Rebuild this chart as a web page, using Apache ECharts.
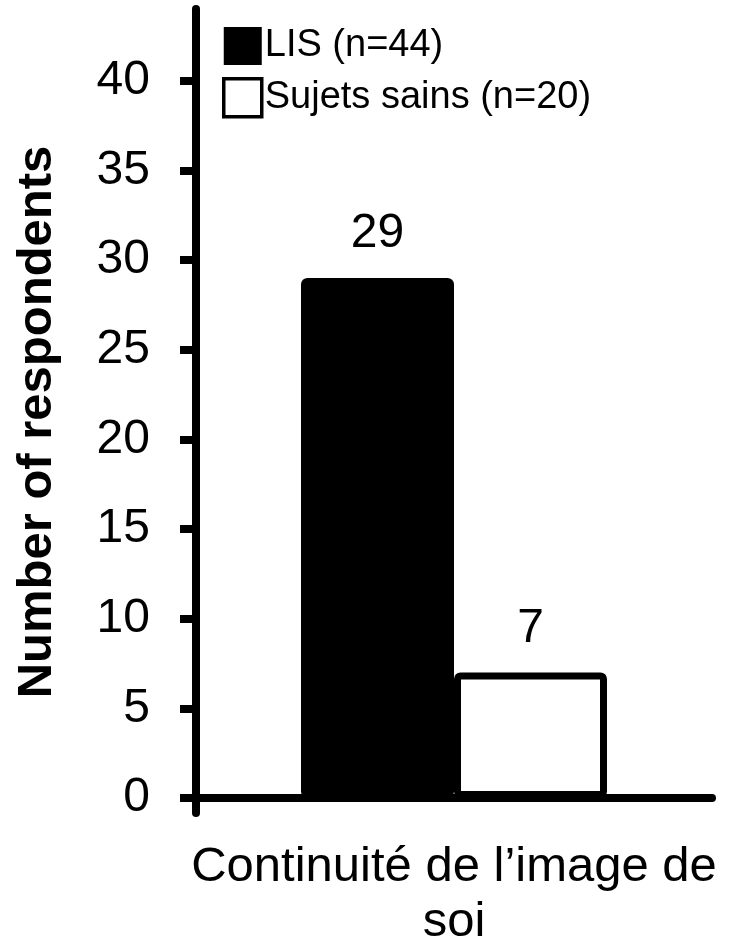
<!DOCTYPE html>
<html>
<head>
<meta charset="utf-8">
<script src="https://cdn.jsdelivr.net/npm/echarts@6/dist/echarts.min.js"></script>
<style>html,body{margin:0;padding:0;background:#fff}#c{width:742px;height:944px}</style>
</head>
<body>
<div id="c"></div>
<script>
const categories = ['Continuité de l’image de soi'];
const seriesNames = ['LIS (n=44)', 'Sujets sains (n=20)'];
const lisValues = [29];
const sainsValues = [7];
const yTicks = [0, 5, 10, 15, 20, 25, 30, 35, 40];
const yAxisName = 'Number of respondents';

const FONT = '"Liberation Sans", Arial, Helvetica, sans-serif';
const chart = echarts.init(document.getElementById('c'), null, {renderer: 'canvas'});
chart.setOption({
  animation: false,
  backgroundColor: '#fff',
  textStyle: {fontFamily: FONT, color: '#000'},
  legend: {
    orient: 'vertical',
    left: 222,
    top: 27,
    padding: 0,
    itemWidth: 38,
    itemHeight: 38,
    itemGap: 12,
    icon: 'rect',
    textStyle: {fontSize: 38, color: '#000', fontFamily: FONT, padding: [0, 0, 0, -2]},
    data: [
      {name: seriesNames[0], itemStyle: {color: '#000', borderColor: '#000', borderWidth: 0}},
      {name: seriesNames[1], itemStyle: {color: '#fff', borderColor: '#000', borderWidth: 3.5}}
    ]
  },
  grid: {left: 196, right: 30, top: 9, bottom: 131, containLabel: false, outerBoundsMode: 'none'},
  xAxis: {
    type: 'category',
    data: categories,
    axisLine: {show: true, onZero: true, lineStyle: {color: '#000', width: 8}},
    axisTick: {show: false},
    axisLabel: {
      color: '#000', fontSize: 49, fontFamily: FONT, margin: 27, lineHeight: 55, align: 'center',
      formatter: function (v) { const i = v.lastIndexOf(' '); return v.slice(0, i) + '\n' + v.slice(i + 1); }
    }
  },
  yAxis: {
    type: 'value',
    min: -0.84,
    max: 44,
    name: yAxisName,
    nameLocation: 'middle',
    nameGap: 134,
    nameTextStyle: {fontSize: 49, fontWeight: 'bold', color: '#000', fontFamily: FONT, padding: [0, 22, 0, 0]},
    axisLine: {show: true, lineStyle: {color: '#000', width: 8}},
    axisTick: {show: true, length: 16, customValues: yTicks, lineStyle: {color: '#000', width: 8}},
    axisLabel: {color: '#000', fontSize: 48, fontFamily: FONT, margin: 46, customValues: yTicks},
    splitLine: {show: false}
  },
  series: [
    {
      name: seriesNames[0], type: 'bar', data: lisValues,
      barWidth: 153, barGap: '0%',
      itemStyle: {color: '#000', borderColor: '#000', borderWidth: 7, borderRadius: 3},
      label: {show: true, position: 'top', distance: 20, fontSize: 48, color: '#000', fontFamily: FONT}
    },
    {
      name: seriesNames[1], type: 'bar', data: sainsValues,
      barWidth: 153, barGap: '0%',
      itemStyle: {color: '#fff', borderColor: '#000', borderWidth: 7, borderRadius: 3},
      label: {show: true, position: 'top', distance: 20, fontSize: 48, color: '#000', fontFamily: FONT}
    }
  ]
});
</script>
</body>
</html>
